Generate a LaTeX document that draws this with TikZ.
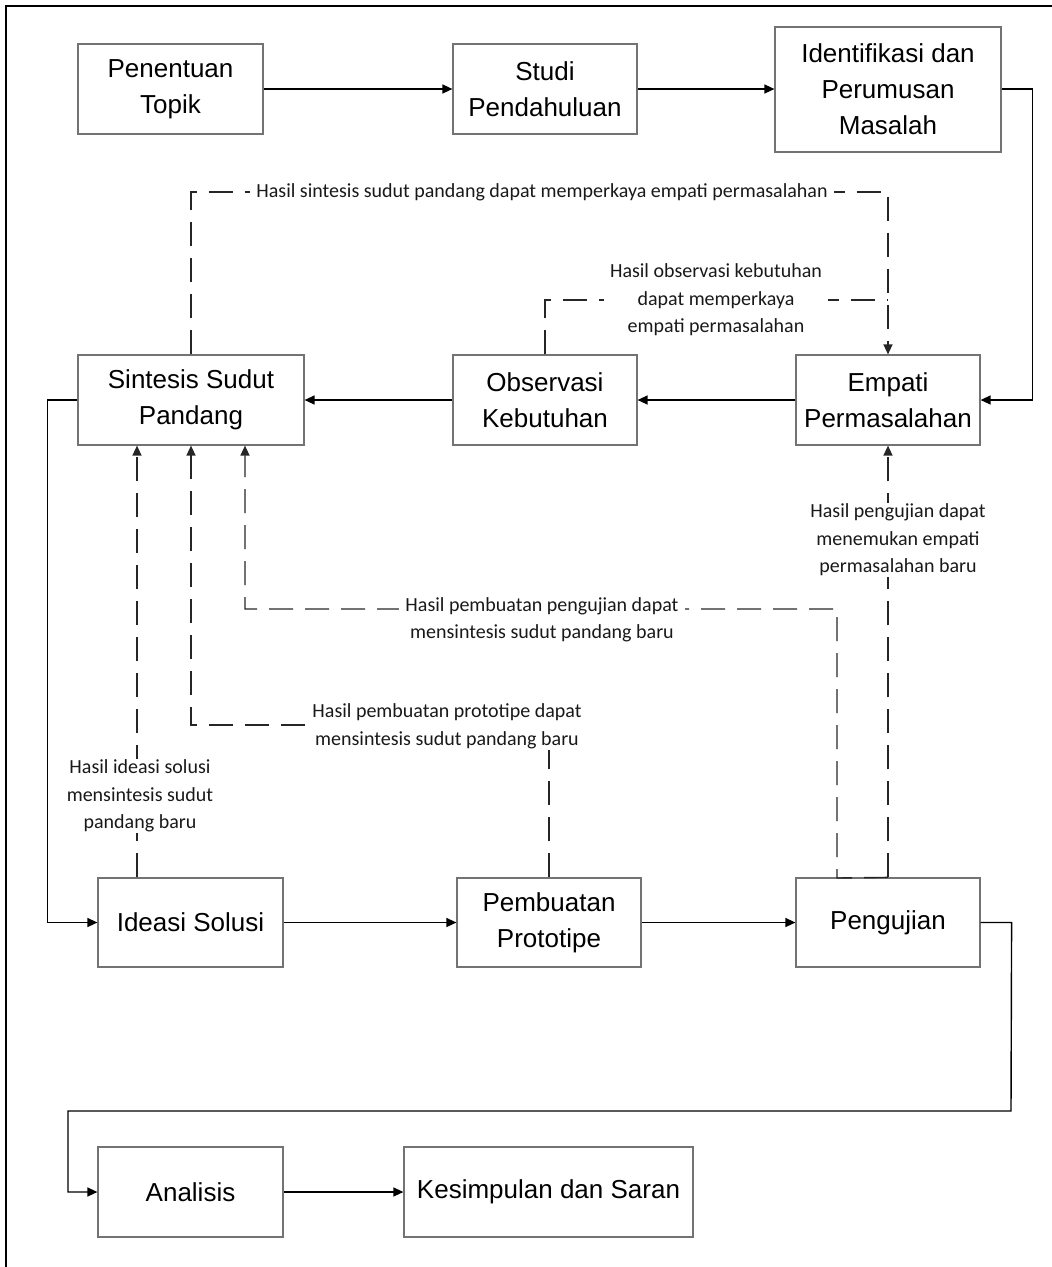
\documentclass[tikz,border=0pt]{standalone}
\usepackage{fontspec}
\setmainfont{Liberation Sans}
\newfontfamily\lblfont{Carlito}
\usetikzlibrary{arrows.meta}
\begin{document}
\begin{tikzpicture}[x=1pt,y=-1pt,
 box/.style={draw=black!55, line width=1.2pt, align=center, font=\fontsize{26}{36}\selectfont, inner sep=0pt},
 conn/.style={line width=1.4pt, -{Triangle[length=10pt,width=9pt]}},
 dsh/.style={line width=1.4pt, dash pattern=on 24pt off 12pt, black!85},
 dsharr/.style={dsh, -{Triangle[length=10pt,width=9pt]}},
 lbl/.style={fill=white, align=center, font=\lblfont\fontsize{20}{27.5}\selectfont, inner xsep=6pt, inner ysep=1pt, text=black!90}]
\useasboundingbox (0,0) rectangle (1052,1267);
\draw[line width=2pt] (6,1267) -- (6,6) -- (1052,6);

% boxes
\node[box, minimum width=185pt, minimum height=90pt] (topik) at (170.5,89) {Penentuan\\Topik};
\node[box, minimum width=184pt, minimum height=90pt] (studi) at (545,89) {Studi\\Pendahuluan};
\node[box, minimum width=226pt, minimum height=125pt] (ident) at (888,89.5) {Identifikasi dan\\Perumusan\\Masalah};
\node[box, minimum width=226pt, minimum height=90pt] (sintesis) at (191,400) {Sintesis Sudut\\Pandang};
\node[box, minimum width=184pt, minimum height=90pt] (observasi) at (545,400) {Observasi\\Kebutuhan};
\node[box, minimum width=184pt, minimum height=90pt] (empati) at (888,400) {Empati\\Permasalahan};
\node[box, minimum width=185pt, minimum height=89pt] (ideasi) at (190.5,922.5) {Ideasi Solusi};
\node[box, minimum width=184pt, minimum height=89pt] (prototipe) at (549,922.5) {Pembuatan\\Prototipe};
\node[box, minimum width=184pt, minimum height=89pt] (pengujian) at (888,922.5) {Pengujian};
\node[box, minimum width=185pt, minimum height=90pt] (analisis) at (190.5,1192) {Analisis};
\node[box, minimum width=289pt, minimum height=90pt] (kesimpulan) at (548.5,1192) {Kesimpulan dan Saran};

% helper coordinates
\coordinate (c1) at (191,192);
\coordinate (j1) at (888,300);
\coordinate (c4) at (837,878);
\coordinate (c4b) at (245,609);
\coordinate (c5) at (191,725);
\coordinate (r1) at (1011,1111);
\coordinate (r2) at (68,1111);

% solid connectors
\draw[conn] (topik.east) -- (studi.west);
\draw[conn] (studi.east) -- (ident.west |- studi.east);
\draw[conn] (ident.east |- studi.east) -- ++(31,0) |- (empati.east);
\draw[conn] (empati.west) -- (observasi.east);
\draw[conn] (observasi.west) -- (sintesis.east);
\draw[conn] (sintesis.west) -- ++(-30,0) |- (ideasi.west);
\draw[conn] (ideasi.east) -- (prototipe.west);
\draw[conn] (prototipe.east) -- (pengujian.west);
\draw[conn] (pengujian.east) -- ++(31,0) -- (r1) -- (r2) |- (analisis.west);
\draw[conn] (analisis.east) -- (kesimpulan.west);

% dashed feedback
\draw[dsharr] (sintesis.north) -- (c1) -| (empati.north);
\draw[dsh] (observasi.north) |- (j1);
\draw[dsharr] (pengujian.north) -- (empati.south);
\draw[dsharr] (pengujian.north) -- (c4) |- (c4b) -- ([xshift=54pt]sintesis.south);
\draw[dsharr] (prototipe.north) |- (c5) -- (sintesis.south);
\draw[dsharr] ([xshift=-53.5pt]ideasi.north) -- ([xshift=-54pt]sintesis.south);

% labels
\node[lbl] (l1) at (542,192) {Hasil sintesis sudut pandang dapat memperkaya empati permasalahan};
\node[lbl] (l2) at (716,300) {Hasil observasi kebutuhan\\dapat memperkaya\\empati permasalahan};
\node[lbl] (l3) at (898,540) {Hasil pengujian dapat\\menemukan empati\\permasalahan baru};
\node[lbl] (l4) at (542,620) {Hasil pembuatan pengujian dapat\\mensintesis sudut pandang baru};
\node[lbl] (l5) at (447,726.5) {Hasil pembuatan prototipe dapat\\mensintesis sudut pandang baru};
\node[lbl] (l6) at (140,796) {Hasil ideasi solusi\\mensintesis sudut\\pandang baru};
\end{tikzpicture}
\end{document}
